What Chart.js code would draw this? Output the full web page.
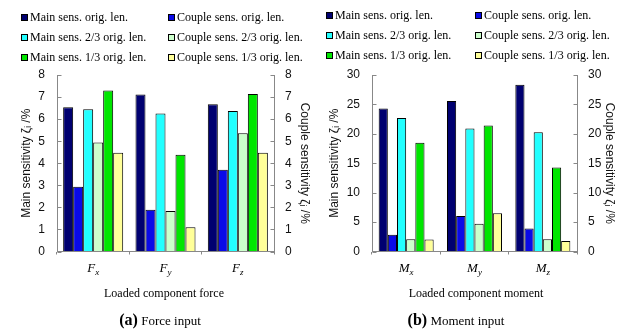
<!DOCTYPE html>
<html><head><meta charset="utf-8">
<script src="https://cdn.jsdelivr.net/npm/chart.js@4"></script>
<style>
body{margin:0;width:631px;height:332px;background:#fff;position:relative;overflow:hidden;font-family:"Liberation Serif","Times New Roman",serif;color:#000}
canvas{position:absolute;top:0}
.lg{position:absolute;font-size:12px;white-space:nowrap;line-height:14px;height:14px}
.lg b{position:absolute;left:-9px;top:4px;width:5px;height:5px;border:1px solid #000}
.t{position:absolute;white-space:nowrap;transform:translateX(-50%);font-size:12px}
.s{position:absolute;white-space:nowrap;transform:translateX(-50%);font-size:13px}
.s strong{font-size:16px}
</style></head>
<body>
<canvas id="cA" width="315" height="332" style="left:0"></canvas>
<canvas id="cB" width="315" height="332" style="left:316px"></canvas>
<div id="legA"></div><div id="legB"></div>
<div class="t" style="left:164px;top:286px">Loaded component force</div>
<div class="t" style="left:476px;top:286px">Loaded component moment</div>
<div class="s" style="left:160px;top:311px"><strong>(a)</strong> Force input</div>
<div class="s" style="left:456px;top:311px"><strong>(b)</strong> Moment input</div>
<script>
const seriesLabels = ['Main sens. orig. len.','Couple sens. orig. len.','Main sens. 2/3 orig. len.','Couple sens. 2/3 orig. len.','Main sens. 1/3 orig. len.','Couple sens. 1/3 orig. len.'];
const seriesColors = ['#000070','#0a0ae8','#22ffff','#ccffcc','#00e600','#ffff99'];

const forceCategories = ['Fx','Fy','Fz'];
const forceMainOrig   = [6.54, 7.12, 6.67];
const forceCoupleOrig = [2.94, 1.89, 3.70];
const forceMain23     = [6.45, 6.26, 6.37];
const forceCouple23   = [4.94, 1.84, 5.36];
const forceMain13     = [7.30, 4.39, 7.14];
const forceCouple13   = [4.48, 1.10, 4.48];
const forceAxisMax = 8, forceAxisStep = 1;

const momentCategories = ['Mx','My','Mz'];
const momentMainOrig   = [24.3, 25.6, 28.35];
const momentCoupleOrig = [2.83, 6.05, 3.90];
const momentMain23     = [22.7, 20.9, 20.26];
const momentCouple23   = [2.10, 4.70, 2.10];
const momentMain13     = [18.5, 21.4, 14.26];
const momentCouple13   = [2.04, 6.50, 1.80];
const momentAxisMax = 30, momentAxisStep = 5;

const mainTitle = 'Main sensitivity ζ\u1D62 /%';
const coupleTitle = 'Couple sensitivity ζ\u1D62 /%';

function makeLegend(id, x1, x2, y0){
  const el = document.getElementById(id);
  seriesLabels.forEach((lab,i)=>{
    const d = document.createElement('div');
    d.className='lg';
    d.style.left = (i%2===0? x1 : x2)+'px';
    d.style.top = (y0 + Math.floor(i/2)*20)+'px';
    d.innerHTML = '<b style="background:'+seriesColors[i]+'"></b>'+lab;
    el.appendChild(d);
  });
}
makeLegend('legA', 30, 177, 10);
makeLegend('legB', 335, 484, 8);

const catPlugin = {
  id:'catLabels',
  afterDraw(chart){
    const ctx = chart.ctx, xs = chart.scales.x;
    // inward ticks on y axes
    ctx.save();
    ctx.strokeStyle='#888'; ctx.lineWidth=1;
    ['y','y1'].forEach(k=>{
      const s = chart.scales[k];
      const x0 = k==='y' ? Math.round(s.right)+0.5 : Math.round(s.left)+0.5;
      const dir = k==='y' ? 1 : -1;
      s.ticks.forEach(t=>{
        const yy = Math.round(s.getPixelForValue(t.value))+0.5;
        ctx.beginPath(); ctx.moveTo(x0,yy); ctx.lineTo(x0+dir*4,yy); ctx.stroke();
      });
    });
    ctx.fillStyle='#000';
    chart.data.labels.forEach((lab,i)=>{
      const x = xs.getPixelForValue(i);
      const main = lab.charAt(0), sub = lab.slice(1);
      ctx.font = 'italic 13px "Liberation Serif", serif';
      const w1 = ctx.measureText(main).width;
      ctx.font = 'italic 9px "Liberation Serif", serif';
      const w2 = ctx.measureText(sub).width;
      const x0 = x - (w1+w2)/2;
      const by = xs.top + 20;
      ctx.textBaseline='alphabetic'; ctx.textAlign='left';
      ctx.font = 'italic 13px "Liberation Serif", serif';
      ctx.fillText(main, x0, by);
      ctx.font = 'italic 9px "Liberation Serif", serif';
      ctx.fillText(sub, x0+w1, by+3);
    });
    ctx.restore();
  }
};

function makeChart(id, cats, series, max, step, catPct, leftW, rightW, lTitlePad, rTitlePad){
  const tickFont = {family:'"Liberation Sans", Arial, sans-serif', size:12};
  const datasets = series.map((d,i)=>({
    label: seriesLabels[i], data: d, backgroundColor: seriesColors[i],
    borderColor:'#000', borderWidth:1, borderSkipped:'bottom',
    yAxisID: i%2===0 ? 'y' : 'y1',
    categoryPercentage: catPct, barPercentage: 1.0
  }));
  return new Chart(document.getElementById(id), {
    type:'bar',
    data:{labels:cats, datasets},
    options:{
      responsive:false, animation:false,
      layout:{padding:{top:75,left:0,right:0,bottom:0}},
      plugins:{legend:{display:false}, tooltip:{enabled:false}},
      scales:{
        x:{
          grid:{display:true, drawOnChartArea:false, offset:true, tickLength:3, color:'#888'},
          border:{color:'#888'},
          ticks:{display:false},
          afterFit:s=>{s.height=80.5;}
        },
        y:{
          position:'left', min:0, max:max,
          ticks:{stepSize:step, padding:12, font:tickFont, color:'#111'},
          grid:{drawOnChartArea:false, drawTicks:false},
          border:{color:'#888'},
          title:{display:true, text:mainTitle, font:tickFont, color:'#111', padding:{top:lTitlePad,bottom:0}},
          afterFit:s=>{s.width=leftW;}
        },
        y1:{
          position:'right', min:0, max:max,
          ticks:{stepSize:step, padding:11, font:tickFont, color:'#111'},
          grid:{drawOnChartArea:false, drawTicks:false},
          border:{color:'#888'},
          title:{display:true, text:coupleTitle, font:tickFont, color:'#111', padding:{top:rTitlePad,bottom:0}},
          afterFit:s=>{s.width=rightW;}
        }
      }
    },
    plugins:[catPlugin]
  });
}

makeChart('cA', forceCategories,
  [forceMainOrig, forceCoupleOrig, forceMain23, forceCouple23, forceMain13, forceCouple13],
  forceAxisMax, forceAxisStep, 0.83, 57, 41, 19, 3);
makeChart('cB', momentCategories,
  [momentMainOrig, momentCoupleOrig, momentMain23, momentCouple23, momentMain13, momentCouple13],
  momentAxisMax, momentAxisStep, 0.805, 56, 54, 11, 14);
</script>
</body></html>
